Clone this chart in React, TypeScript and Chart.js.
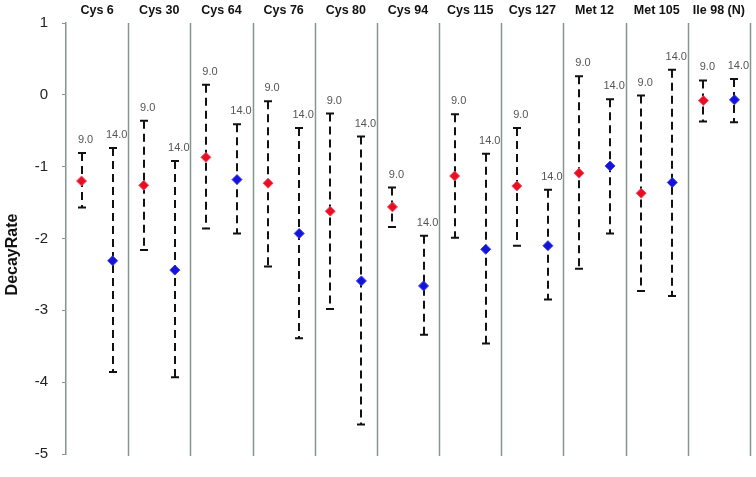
import React, { useEffect, useRef } from "react";
import { Chart, registerables } from "chart.js";

Chart.register(...registerables);

const groups = ["Cys 6", "Cys 30", "Cys 64", "Cys 76", "Cys 80", "Cys 94", "Cys 115", "Cys 127", "Met 12", "Met 105", "Ile 98 (N)"];
const seriesLabels = ["9.0", "14.0"];
const ph9Mean = [-1.2, -1.26, -0.87, -1.23, -1.62, -1.56, -1.13, -1.27, -1.09, -1.37, -0.08];
const ph9High = [-0.81, -0.36, 0.14, -0.09, -0.26, -1.29, -0.27, -0.46, 0.26, -0.01, 0.2];
const ph9Low = [-1.57, -2.16, -1.86, -2.39, -2.98, -1.84, -1.99, -2.1, -2.42, -2.73, -0.37];
const ph14Mean = [-2.31, -2.44, -1.18, -1.93, -2.59, -2.66, -2.15, -2.1, -0.99, -1.22, -0.07];
const ph14High = [-0.74, -0.92, -0.41, -0.46, -0.58, -1.96, -0.82, -1.32, -0.06, 0.35, 0.22];
const ph14Low = [-3.86, -3.93, -1.93, -3.39, -4.59, -3.34, -3.46, -2.85, -1.93, -2.8, -0.38];
const yTicks = [1, 0, -1, -2, -3, -4, -5];

const SEP = "#86968f";

export default function App() {
  const ref = useRef<HTMLCanvasElement | null>(null);
  useEffect(() => {
    if (!ref.current) return;
    const mk = (mean: number[], hi: number[], lo: number[], off: number) =>
      mean.map((m, i) => ({ x: i + off, y: m, hi: hi[i], lo: lo[i] }));
    const d9 = mk(ph9Mean, ph9High, ph9Low, 0.25);
    const d14 = mk(ph14Mean, ph14High, ph14Low, 0.75);

    const plugin = {
      id: "decor",
      beforeDatasetsDraw(chart: any) {
        const { ctx, chartArea, scales } = chart;
        const xs = scales.x, ys = scales.y;
        ctx.save();
        // separators
        ctx.strokeStyle = SEP;
        ctx.lineWidth = 1.5;
        for (let i = 1; i <= groups.length; i++) {
          const x = Math.round(xs.getPixelForValue(i)) + 0.5;
          ctx.beginPath();
          ctx.moveTo(x, chartArea.top);
          ctx.lineTo(x, chartArea.bottom + 2);
          ctx.stroke();
        }
        // error bars
        ctx.strokeStyle = "#111";
        ctx.lineWidth = 2;
        chart.data.datasets.forEach((ds: any) => {
          ds.data.forEach((p: any) => {
            const x = Math.round(xs.getPixelForValue(p.x));
            const yh = ys.getPixelForValue(p.hi);
            const yl = ys.getPixelForValue(p.lo);
            ctx.setLineDash([8, 5]);
            ctx.beginPath();
            ctx.moveTo(x, yh);
            ctx.lineTo(x, yl);
            ctx.stroke();
            ctx.setLineDash([]);
            ctx.beginPath();
            ctx.moveTo(x - 4, yh);
            ctx.lineTo(x + 4, yh);
            ctx.moveTo(x - 4, yl);
            ctx.lineTo(x + 4, yl);
            ctx.stroke();
          });
        });
        ctx.restore();
      },
      afterDatasetsDraw(chart: any) {
        const { ctx, chartArea, scales } = chart;
        const xs = scales.x, ys = scales.y;
        ctx.save();
        ctx.fillStyle = "#555";
        ctx.font = "11px 'Liberation Sans', Arial, sans-serif";
        ctx.textAlign = "center";
        ctx.textBaseline = "middle";
        chart.data.datasets.forEach((ds: any, di: number) => {
          ds.data.forEach((p: any) => {
            const x = xs.getPixelForValue(p.x);
            const yh = ys.getPixelForValue(p.hi);
            ctx.fillText(seriesLabels[di], x + 4, yh - 13);
          });
        });
        // group titles
        ctx.fillStyle = "#111";
        ctx.font = "bold 12.5px 'Liberation Sans', Arial, sans-serif";
        groups.forEach((g, i) => {
          const x = xs.getPixelForValue(i + 0.5);
          ctx.fillText(g, x, 11);
        });
        // y title
        ctx.translate(13, (chartArea.top + chartArea.bottom) / 2 + 16);
        ctx.rotate(-Math.PI / 2);
        ctx.font = "bold 16px 'Liberation Sans', Arial, sans-serif";
        ctx.fillText("DecayRate", 0, 0);
        ctx.restore();
      },
    };

    const chart = new Chart(ref.current, {
      type: "scatter",
      data: {
        datasets: [
          {
            label: seriesLabels[0],
            data: d9 as any,
            pointStyle: "rectRot",
            pointRadius: 5,
            backgroundColor: "#e8101c",
            borderColor: "#f0507a",
            borderWidth: 1,
          },
          {
            label: seriesLabels[1],
            data: d14 as any,
            pointStyle: "rectRot",
            pointRadius: 5,
            backgroundColor: "#1414d8",
            borderColor: "#3a3aee",
            borderWidth: 1,
          },
        ],
      },
      options: {
        animation: false,
        responsive: true,
        maintainAspectRatio: false,
        layout: { padding: { left: 0, top: 20.5, right: 5, bottom: 12 } },
        plugins: { legend: { display: false }, tooltip: { enabled: false } },
        scales: {
          x: { type: "linear", min: 0, max: groups.length, display: false },
          y: {
            min: -5,
            max: 1,
            afterFit: (s: any) => {
              s.width = 66;
            },
            afterBuildTicks: (s: any) => {
              s.ticks = yTicks.map((v) => ({ value: v }));
            },
            grid: { display: true, drawOnChartArea: false, drawTicks: true, tickLength: 4, color: SEP },
            border: { display: true, color: SEP, width: 1.5 },
            ticks: {
              padding: 14,
              color: "#222",
              font: { family: "'Liberation Sans', Arial, sans-serif", size: 15 },
            },
          },
        },
      },
      plugins: [plugin],
    });
    return () => chart.destroy();
  }, []);
  return (
    <div style={{ position: "absolute", left: 0, top: 0, width: 756, height: 477, background: "#fff" }}>
      <canvas ref={ref} />
    </div>
  );
}
